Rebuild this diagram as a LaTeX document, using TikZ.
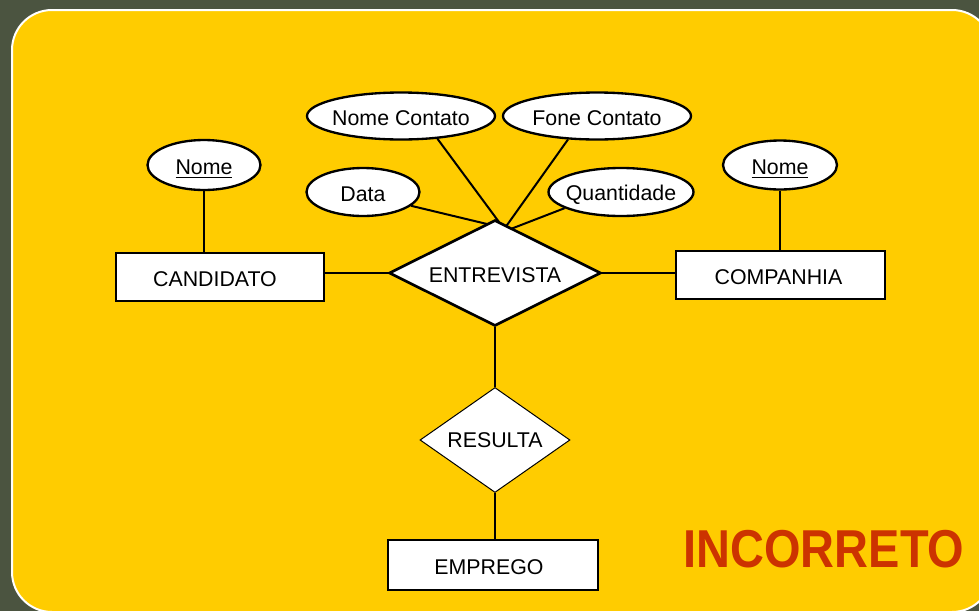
\documentclass[tikz,border=0pt]{standalone}
\usepackage{fontspec}
\setmainfont{Liberation Sans}
\usetikzlibrary{shapes.geometric}
\newcommand{\pxu}{0.75pt}
\newcommand{\lowtxt}[1]{\raisebox{-1.8pt}[\height][\depth]{#1}}
\newcommand{\lowkey}[1]{\raisebox{-1.8pt}[\height][0pt]{\underline{#1}}}
\newcommand{\shiftedtxt}[2]{\makebox[0pt]{\hspace*{#1}\lowtxt{#2}}}
\definecolor{bgdark}{HTML}{4B5440}
\definecolor{bgyellow}{HTML}{FFCC00}
\definecolor{wrongred}{HTML}{CC3300}
\begin{document}
\begin{tikzpicture}[x=0.75pt,y=-0.75pt,
  every node/.style={font=\fontsize{16}{19}\selectfont},
  entity/.style={draw,fill=white,line width=2pt,inner sep=0pt},
  attr/.style={draw,ellipse,fill=white,line width=1.75pt,inner sep=0pt},
  rel/.style={draw,diamond,fill=white,inner sep=0pt,aspect=2},
  link/.style={line width=1.5pt}]
\useasboundingbox (0,0) rectangle (979,611);
\fill[bgdark] (0,0) rectangle (979,611);
\begin{scope}
\clip (0,0) rectangle (979,611);
\draw[white,line width=1.5pt,fill=bgyellow,rounded corners=30pt] (12,10) rectangle (992,612);
\end{scope}

% entities
\node[entity,minimum width=208*\pxu,minimum height=48*\pxu] (cand) at (220,277) {\shiftedtxt{-7.5pt}{CANDIDATO}};
\node[entity,minimum width=209*\pxu,minimum height=48*\pxu] (comp) at (780.5,275) {\shiftedtxt{-3pt}{COMPANHIA}};
\node[entity,minimum width=210*\pxu,minimum height=50*\pxu] (emp) at (493,565) {\shiftedtxt{-6pt}{EMPREGO}};

% attributes
\node[attr,minimum width=113*\pxu,minimum height=50*\pxu] (nome1) at (204,165) {\makebox[0pt]{\lowkey{Nome}}};
\node[attr,minimum width=114*\pxu,minimum height=49*\pxu] (nome2) at (780,165) {\makebox[0pt]{\lowkey{Nome}}};
\node[attr,minimum width=188*\pxu,minimum height=47*\pxu] (ncont) at (401,116) {\makebox[0pt]{\lowtxt{Nome Contato}}};
\node[attr,minimum width=188*\pxu,minimum height=47*\pxu] (fcont) at (597,116) {\makebox[0pt]{\lowtxt{Fone Contato}}};
\node[attr,minimum width=113*\pxu,minimum height=48*\pxu] (data) at (363,192) {\makebox[0pt]{\lowtxt{Data}}};
\node[attr,minimum width=145*\pxu,minimum height=48*\pxu] (qtd) at (621,192) {\makebox[0pt]{\lowtxt{Quantidade}}};

% relationships
\node[rel,line width=2pt,minimum width=212*\pxu,minimum height=106*\pxu] (entr) at (495,273) {\makebox[0pt]{\lowtxt{ENTREVISTA}}};
\node[rel,line width=0.75pt,minimum width=150*\pxu,minimum height=105*\pxu] (res) at (495,440) {\makebox[0pt]{RESULTA}};

% attachment points on the diamond
\coordinate (tA) at (487,224);
\coordinate (tB) at (499,222);
\coordinate (tC) at (506.5,225.8);
\coordinate (tD) at (512,228.5);

% connectors
\draw[link] (nome1.south) -- (nome1.south |- cand.north);
\draw[link] (nome2.south) -- (nome2.south |- comp.north);
\draw[link] (cand.east |- entr.west) -- (entr.west);
\draw[link] (entr.east) -- (entr.east -| comp.west);
\draw[link] (entr.south) -- (res.north);
\draw[link] (res.south) -- (res.south |- emp.north);
\draw[link] (data.-16) -- (tA);
\draw[link] (ncont.-32) -- (tB);
\draw[link] (fcont.219) -- (tC);
\draw[link] (qtd.196) -- (tD);

% verdict
\node[text=wrongred,font=\fontsize{40}{40}\selectfont\bfseries] (wrong) at (824,549) {\scalebox{0.88}[1]{INCORRETO}};
\end{tikzpicture}
\end{document}
